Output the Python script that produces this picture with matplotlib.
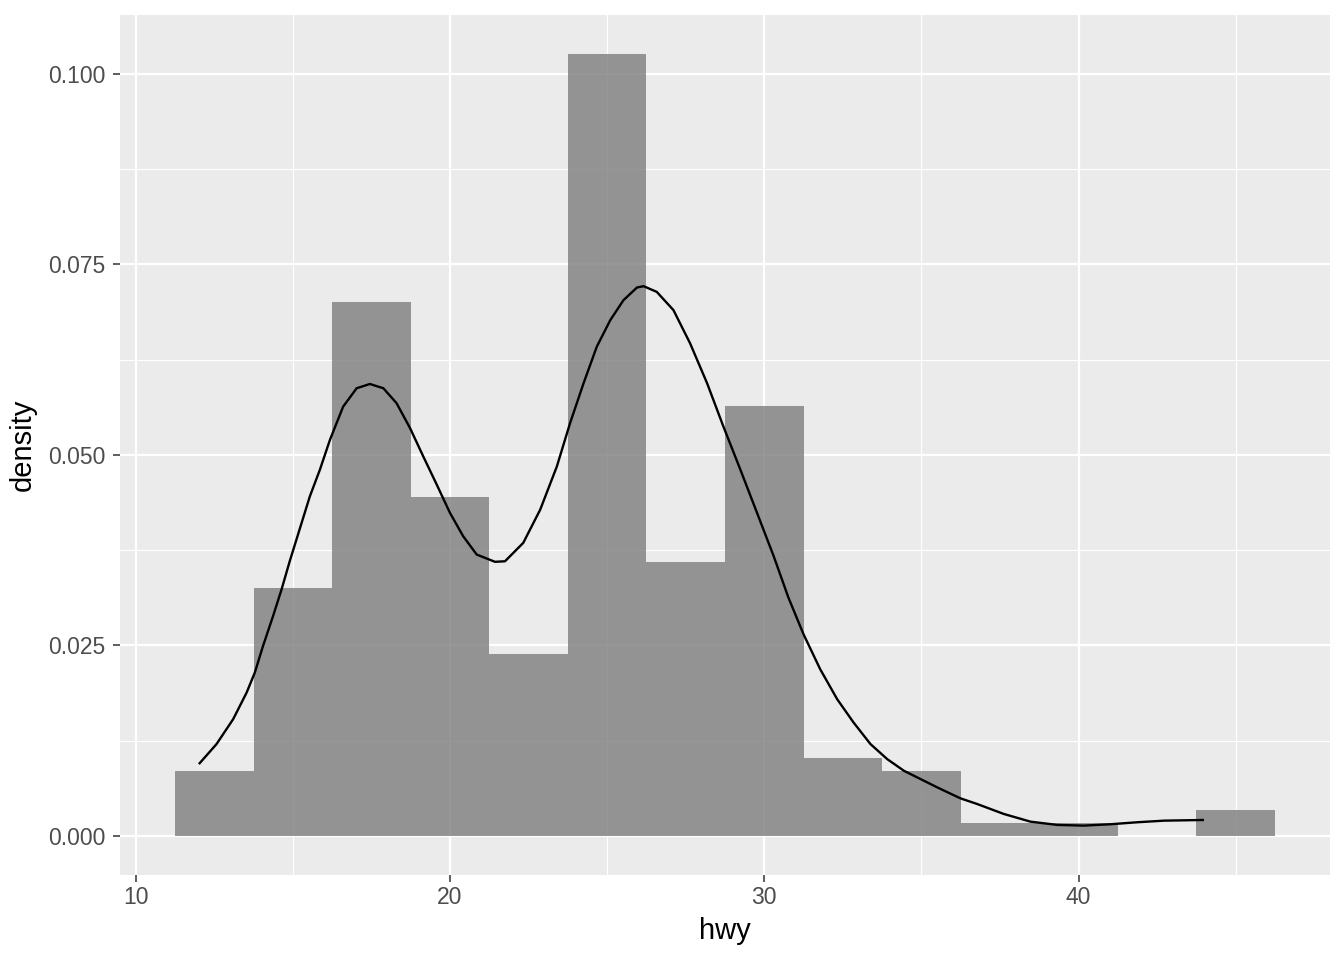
import matplotlib
matplotlib.use("Agg")
import matplotlib.pyplot as plt
import numpy as np

plt.rcParams['font.family'] = ['Liberation Sans', 'DejaVu Sans']

# Histogram: bin edges (binwidth 2.5) and density per bin
bin_edges = [11.25, 13.75, 16.25, 18.75, 21.25, 23.75, 26.25, 28.75,
             31.25, 33.75, 36.25, 38.75, 41.25, 43.75, 46.25]
bin_density = [0.00855, 0.03248, 0.07009, 0.04444, 0.02393, 0.10256, 0.03590,
               0.05641, 0.01026, 0.00855, 0.00171, 0.00171, 0.0, 0.00342]

# Density curve
dens_x = [12.01, 12.57, 13.10, 13.53, 13.79, 14.05, 14.37, 14.64, 14.90, 15.54,
          15.86, 16.18, 16.60, 17.03, 17.45, 17.88, 18.30, 18.73, 19.15, 19.58,
          20.00, 20.42, 20.85, 21.43, 21.75, 22.33, 22.87, 23.40, 23.82, 24.25,
          24.67, 25.10, 25.52, 25.95, 26.16, 26.58, 27.11, 27.64, 28.18, 28.70,
          29.24, 29.77, 30.30, 30.77, 31.25, 31.78, 32.32, 32.84, 33.38, 33.91,
          34.44, 34.97, 35.50, 36.24, 36.77, 37.62, 38.47, 39.32, 40.17, 41.02,
          41.87, 42.72, 43.99]
dens_y = [0.00942, 0.01204, 0.01531, 0.01881, 0.02143, 0.02491, 0.02884, 0.03233,
          0.03603, 0.04454, 0.04804, 0.05196, 0.05632, 0.05873, 0.05929, 0.05873,
          0.05677, 0.05349, 0.04978, 0.04607, 0.04237, 0.03931, 0.03691, 0.03596,
          0.03603, 0.03844, 0.04280, 0.04847, 0.05415, 0.05939, 0.06418, 0.06767,
          0.07029, 0.07195, 0.07212, 0.07137, 0.06898, 0.06462, 0.05939, 0.05370,
          0.04804, 0.04237, 0.03669, 0.03124, 0.02644, 0.02186, 0.01793, 0.01488,
          0.01204, 0.01008, 0.00855, 0.00746, 0.00637, 0.00493, 0.00419, 0.00288,
          0.00187, 0.00144, 0.00135, 0.00153, 0.00179, 0.00200, 0.00209]

x_ticks = [10, 20, 30, 40]
x_minor = [15, 25, 35, 45]
y_ticks = [0.0, 0.025, 0.05, 0.075, 0.1]
y_tick_labels = ["0.000", "0.025", "0.050", "0.075", "0.100"]
y_minor = [0.0125, 0.0375, 0.0625, 0.0875]

fig = plt.figure(figsize=(13.44, 9.6), dpi=100)
ax = fig.add_axes([120/1344, 85/960, 1210/1344, 860/960])
ax.set_facecolor('#EBEBEB')

for v in x_ticks:
    ax.axvline(v, color='white', lw=1.6, zorder=1)
for v in x_minor:
    ax.axvline(v, color='white', lw=0.8, zorder=1)
for v in y_ticks:
    ax.axhline(v, color='white', lw=1.6, zorder=1)
for v in y_minor:
    ax.axhline(v, color='white', lw=0.8, zorder=1)

edges = np.array(bin_edges)
ax.bar(edges[:-1], bin_density, width=np.diff(edges), align='edge',
       color='#7D7D7D', alpha=0.8, linewidth=0, zorder=2)
ax.plot(dens_x, dens_y, color='black', lw=1.7, zorder=3,
        solid_joinstyle='round', solid_capstyle='butt')

ax.set_xlim(9.5, 48.0)
ax.set_ylim(-0.00513, 0.1077)
ax.set_xticks(x_ticks)
ax.set_xticklabels([str(t) for t in x_ticks])
ax.set_yticks(y_ticks)
ax.set_yticklabels(y_tick_labels)
for s in ax.spines.values():
    s.set_visible(False)
ax.tick_params(axis='both', colors='#333333', length=5, width=1.1,
               labelsize=16.5, labelcolor='#4D4D4D', pad=3)
ax.tick_params(axis='y', pad=5.5)
ax.set_xlabel('hwy', fontsize=21, labelpad=6)
ax.set_ylabel('density', fontsize=21, labelpad=8)

fig.savefig('out.png', dpi=100)
